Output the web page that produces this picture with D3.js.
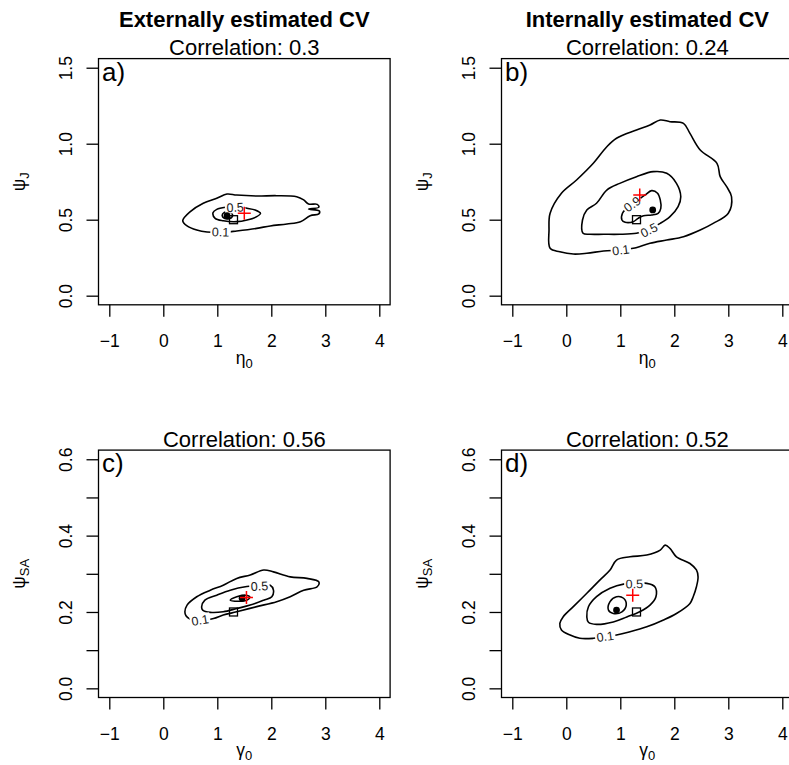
<!DOCTYPE html>
<html><head><meta charset="utf-8">
<script src="https://cdn.jsdelivr.net/npm/d3@7"></script>
<style>body{margin:0;background:#fff} svg{display:block;font-family:"Liberation Sans",Arial,Helvetica,sans-serif}</style>
</head><body><svg id="c" width="789" height="765"></svg>
<script>
// ---------- data ----------
const columnTitles = ["Externally estimated CV", "Internally estimated CV"];
const panelLetters = ["a)", "b)", "c)", "d)"];
const correlations = [0.3, 0.24, 0.56, 0.52];
const xLabels = ["η", "η", "γ", "γ"];
const xLabelSubs = ["0", "0", "0", "0"];
const yLabelSubs = ["J", "J", "SA", "SA"];
const xTicks = [-1, 0, 1, 2, 3, 4];
const xLimits = [-1, 4];
const yTicksUpper = [0, 0.5, 1.0, 1.5];
const yTickLabelsUpper = ["0.0", "0.5", "1.0", "1.5"];
const yLimitsUpper = [0, 1.5];
const yTicksLower = [0, 0.1, 0.2, 0.3, 0.4, 0.5, 0.6];
const yTickLabelsLower = ["0.0", "", "0.2", "", "0.4", "", "0.6"];
const yLimitsLower = [0, 0.6];

// contours (data coordinates)
const contourA_01 = [[0.36,0.493],[0.50,0.553],[0.74,0.608],[0.99,0.641],[1.18,0.669],[1.36,0.662],[1.73,0.656],[2.10,0.658],[2.47,0.651],[2.60,0.630],[2.69,0.603],[2.85,0.601],[2.88,0.582],[2.69,0.570],[2.89,0.557],[2.88,0.538],[2.72,0.526],[2.54,0.487],[2.29,0.472],[1.98,0.459],[1.73,0.443],[1.36,0.426],[1.11,0.417],[0.81,0.419],[0.62,0.432],[0.44,0.459]];
const contourA_05 = [[0.92,0.546],[0.99,0.568],[1.15,0.582],[1.36,0.586],[1.55,0.575],[1.70,0.564],[1.80,0.542],[1.73,0.520],[1.55,0.498],[1.36,0.487],[1.11,0.493],[0.96,0.509]];
const contourA_09 = [[1.09,0.528],[1.13,0.548],[1.20,0.551],[1.27,0.540],[1.28,0.522],[1.22,0.507],[1.13,0.510]];
const contourB_01 = [[-0.30,0.312],[-0.32,0.432],[-0.30,0.542],[-0.09,0.674],[0.19,0.761],[0.50,0.871],[0.75,0.980],[0.93,1.036],[1.30,1.090],[1.55,1.123],[1.74,1.156],[1.92,1.145],[2.17,1.134],[2.29,1.068],[2.48,0.959],[2.79,0.871],[2.85,0.783],[2.97,0.717],[3.06,0.651],[3.00,0.542],[2.72,0.476],[2.48,0.432],[2.17,0.388],[1.86,0.366],[1.55,0.345],[1.24,0.312],[0.99,0.301],[0.69,0.294],[0.38,0.279],[0.13,0.274],[-0.12,0.289]];
const contourB_05 = [[0.31,0.411],[0.30,0.498],[0.38,0.564],[0.56,0.608],[0.75,0.695],[0.99,0.739],[1.30,0.783],[1.61,0.816],[1.86,0.805],[2.04,0.739],[2.12,0.651],[2.07,0.586],[1.92,0.520],[1.74,0.476],[1.49,0.432],[1.30,0.411],[0.99,0.404],[0.69,0.404],[0.44,0.404]];
const contourB_09 = [[1.03,0.498],[1.04,0.542],[1.12,0.575],[1.33,0.630],[1.46,0.663],[1.58,0.691],[1.69,0.674],[1.74,0.630],[1.75,0.575],[1.70,0.542],[1.58,0.531],[1.43,0.526],[1.33,0.509],[1.24,0.487],[1.09,0.483]];
const contourC_01 = [[0.40,0.2005],[0.44,0.218],[0.62,0.240],[0.87,0.257],[1.11,0.270],[1.36,0.288],[1.61,0.297],[1.86,0.310],[2.04,0.305],[2.35,0.292],[2.66,0.288],[2.88,0.279],[2.85,0.266],[2.60,0.257],[2.35,0.240],[2.10,0.227],[1.73,0.214],[1.36,0.2005],[1.11,0.192],[0.93,0.183],[0.68,0.177],[0.50,0.181],[0.42,0.190]];
const contourC_05 = [[0.71,0.2136],[0.77,0.231],[0.99,0.244],[1.24,0.257],[1.52,0.266],[1.98,0.270],[2.04,0.257],[2.01,0.240],[1.86,0.231],[1.61,0.218],[1.36,0.209],[1.11,0.2005],[0.87,0.199],[0.73,0.205]];
const contourC_09 = [[1.24,0.231],[1.36,0.240],[1.52,0.244],[1.60,0.240],[1.55,0.231],[1.39,0.228]];
const contourD_01 = [[-0.12,0.170],[-0.06,0.187],[0.13,0.214],[0.38,0.249],[0.62,0.2835],[0.81,0.310],[0.93,0.336],[1.18,0.3445],[1.49,0.349],[1.74,0.362],[1.83,0.375],[1.92,0.3665],[2.04,0.3445],[2.29,0.327],[2.41,0.310],[2.44,0.292],[2.41,0.266],[2.35,0.240],[2.29,0.2225],[2.04,0.196],[1.80,0.179],[1.49,0.161],[1.18,0.148],[0.93,0.1395],[0.50,0.131],[0.25,0.131],[0.07,0.1395],[-0.09,0.153]];
const contourD_05 = [[0.38,0.187],[0.41,0.2136],[0.56,0.240],[0.81,0.262],[1.06,0.273],[1.49,0.275],[1.64,0.266],[1.66,0.240],[1.55,0.218],[1.36,0.2005],[1.12,0.187],[0.87,0.174],[0.56,0.1675],[0.41,0.173]];
const contourD_09 = [[0.78,0.205],[0.81,0.227],[0.93,0.240],[1.06,0.236],[1.11,0.218],[1.03,0.2005],[0.87,0.196]];

// contour labels: [level text, x, y]
const labelsA = [["0.1",1.06,0.420],["0.5",1.33,0.582]];
const labelsB = [["0.1",1.01,0.301],["0.5",1.53,0.432],["0.9",1.22,0.603]];
const labelsC = [["0.1",0.68,0.179],["0.5",1.78,0.268]];
const labelsD = [["0.1",0.72,0.136],["0.5",1.26,0.274]];

// point markers per panel a,b,c,d
const estimateDots = [[1.18,0.526],[1.60,0.564],[1.46,0.236],[0.93,0.205]];
const trueSquares = [[1.3,0.5],[1.3,0.5],[1.3,0.2],[1.3,0.2]];
const redCrosses = [[1.50,0.542],[1.36,0.662],[1.54,0.238],[1.23,0.244]];

// ---------- layout ----------
const svg = d3.select("#c");
const plotW = 291.6;
const layout = [
  {left: 98.5, top: 58.6, bottom: 304.8},
  {left: 501.5, top: 58.6, bottom: 304.8},
  {left: 98.5, top: 450.1, bottom: 697.5},
  {left: 501.5, top: 450.1, bottom: 697.5}
];
const contoursByPanel = [
  [contourA_01, contourA_05, contourA_09],
  [contourB_01, contourB_05, contourB_09],
  [contourC_01, contourC_05, contourC_09],
  [contourD_01, contourD_05, contourD_09]
];
const labelsByPanel = [labelsA, labelsB, labelsC, labelsD];
const levelIndex = {"0.1":0, "0.5":1, "0.9":2};

function ext(lim){ const d = (lim[1]-lim[0])*0.04; return [lim[0]-d, lim[1]+d]; }

function segDist(p, a, b) {
  const vx = b[0]-a[0], vy = b[1]-a[1];
  const L2 = vx*vx + vy*vy || 1;
  let t = ((p[0]-a[0])*vx + (p[1]-a[1])*vy) / L2;
  t = Math.max(0, Math.min(1, t));
  const qx = a[0] + t*vx, qy = a[1] + t*vy;
  return (p[0]-qx)**2 + (p[1]-qy)**2;
}

layout.forEach((L, i) => {
  const upper = i < 2;
  const g = svg.append("g");
  const x = d3.scaleLinear().domain(ext(xLimits)).range([L.left, L.left + plotW]);
  const y = d3.scaleLinear().domain(ext(upper ? yLimitsUpper : yLimitsLower)).range([L.bottom, L.top]);
  const cx = L.left + plotW/2, cy = (L.top + L.bottom)/2;

  // contours
  const line = d3.line().x(d => x(d[0])).y(d => y(d[1])).curve(d3.curveCatmullRomClosed.alpha(0.5));
  contoursByPanel[i].forEach(c => {
    g.append("path").attr("d", line(c)).attr("fill","none").attr("stroke","#000").attr("stroke-width",1.6).attr("stroke-linejoin","round");
  });
  // contour labels
  labelsByPanel[i].forEach(([txt, lx, ly]) => {
    const px = x(lx), py = y(ly);
    const c = contoursByPanel[i][levelIndex[txt]];
    let best = 1e9, ang = 0;
    for (let k = 0; k < c.length; k++) {
      const p1 = [x(c[k][0]), y(c[k][1])], p2 = [x(c[(k+1)%c.length][0]), y(c[(k+1)%c.length][1])];
      const dd = segDist([px, py], p1, p2);
      if (dd < best) { best = dd; ang = Math.atan2(p2[1]-p1[1], p2[0]-p1[0]) * 180/Math.PI; }
    }
    if (ang > 90) ang -= 180; if (ang < -90) ang += 180;
    const lg = g.append("g").attr("transform", `translate(${px},${py}) rotate(${ang})`);
    const t = lg.append("text").text(txt).attr("font-size", 12.5).attr("text-anchor","middle").attr("dy","0.36em").attr("fill","#1a1a1a");
    const bb = t.node().getBBox();
    lg.insert("rect","text").attr("x", bb.x-1.5).attr("y", -6).attr("width", bb.width+3).attr("height", 12).attr("fill","#fff");
  });

  // markers
  const sq = trueSquares[i];
  g.append("rect").attr("x", x(sq[0])-4).attr("y", y(sq[1])-4).attr("width",8).attr("height",8).attr("fill","none").attr("stroke","#000").attr("stroke-width",1.3);
  const dt = estimateDots[i];
  g.append("circle").attr("cx", x(dt[0])).attr("cy", y(dt[1])).attr("r", 3.4).attr("fill","#000");
  const cr = redCrosses[i];
  g.append("path").attr("d", `M${x(cr[0])-6.5},${y(cr[1])}h13M${x(cr[0])},${y(cr[1])-6.5}v13`).attr("stroke","#ff0000").attr("stroke-width",1.5).attr("fill","none");

  // box
  g.append("rect").attr("x", L.left).attr("y", L.top).attr("width", plotW).attr("height", L.bottom - L.top).attr("fill","none").attr("stroke","#000").attr("stroke-width",1.3);

  // x axis
  const xa = g.append("g").attr("transform", `translate(0,${L.bottom})`)
    .call(d3.axisBottom(x).tickValues(xTicks).tickSize(12).tickFormat(d => d < 0 ? "\u2212" + Math.abs(d) : String(d)));
  xa.select(".domain").remove();
  xa.attr("font-size", null).attr("font-family", null);
  xa.selectAll("line").attr("stroke","#000").attr("stroke-width",1.3);
  xa.selectAll("text").attr("y", 42).attr("dy", 0).attr("font-size", 17.5).attr("fill","#000");

  // y axis
  const yt = upper ? yTicksUpper : yTicksLower;
  const yl = upper ? yTickLabelsUpper : yTickLabelsLower;
  const ya = g.append("g").attr("transform", `translate(${L.left},0)`)
    .call(d3.axisLeft(y).tickValues(yt).tickSize(12).tickFormat((d, k) => yl[k]));
  ya.select(".domain").remove();
  ya.attr("font-size", null).attr("font-family", null);
  ya.selectAll("line").attr("stroke","#000").attr("stroke-width",1.3);
  ya.selectAll("text").attr("x", 0).attr("dy", 0).attr("text-anchor","middle")
    .attr("transform","translate(-26.5,0) rotate(-90)").attr("font-size", 17.5).attr("fill","#000");

  // titles
  if (upper) {
    svg.append("text").attr("x", cx).attr("y", 27).attr("text-anchor","middle").attr("font-size", 22).attr("font-weight","bold").text(columnTitles[i]);
  }
  svg.append("text").attr("x", cx).attr("y", upper ? 55 : 446.5).attr("text-anchor","middle").attr("font-size", 22).text("Correlation: " + correlations[i]);

  // panel letter
  svg.append("text").attr("x", L.left + 3.5).attr("y", L.top + 22).attr("font-size", 26).text(panelLetters[i]);

  // x label
  const xt = svg.append("text").attr("x", cx).attr("y", upper ? 363.5 : 755.5).attr("text-anchor","middle").attr("font-size", 17.5);
  xt.append("tspan").text(xLabels[i]);
  xt.append("tspan").attr("dy", 4).attr("font-size", 13).text(xLabelSubs[i]);

  // y label
  const ytl = svg.append("text").attr("transform", `translate(${L.left - 74},${cy}) rotate(-90)`).attr("text-anchor","middle").attr("font-size", 17.5);
  ytl.append("tspan").text("ψ");
  ytl.append("tspan").attr("dy", 4).attr("font-size", 13).text(yLabelSubs[i]);
});
</script></body></html>
